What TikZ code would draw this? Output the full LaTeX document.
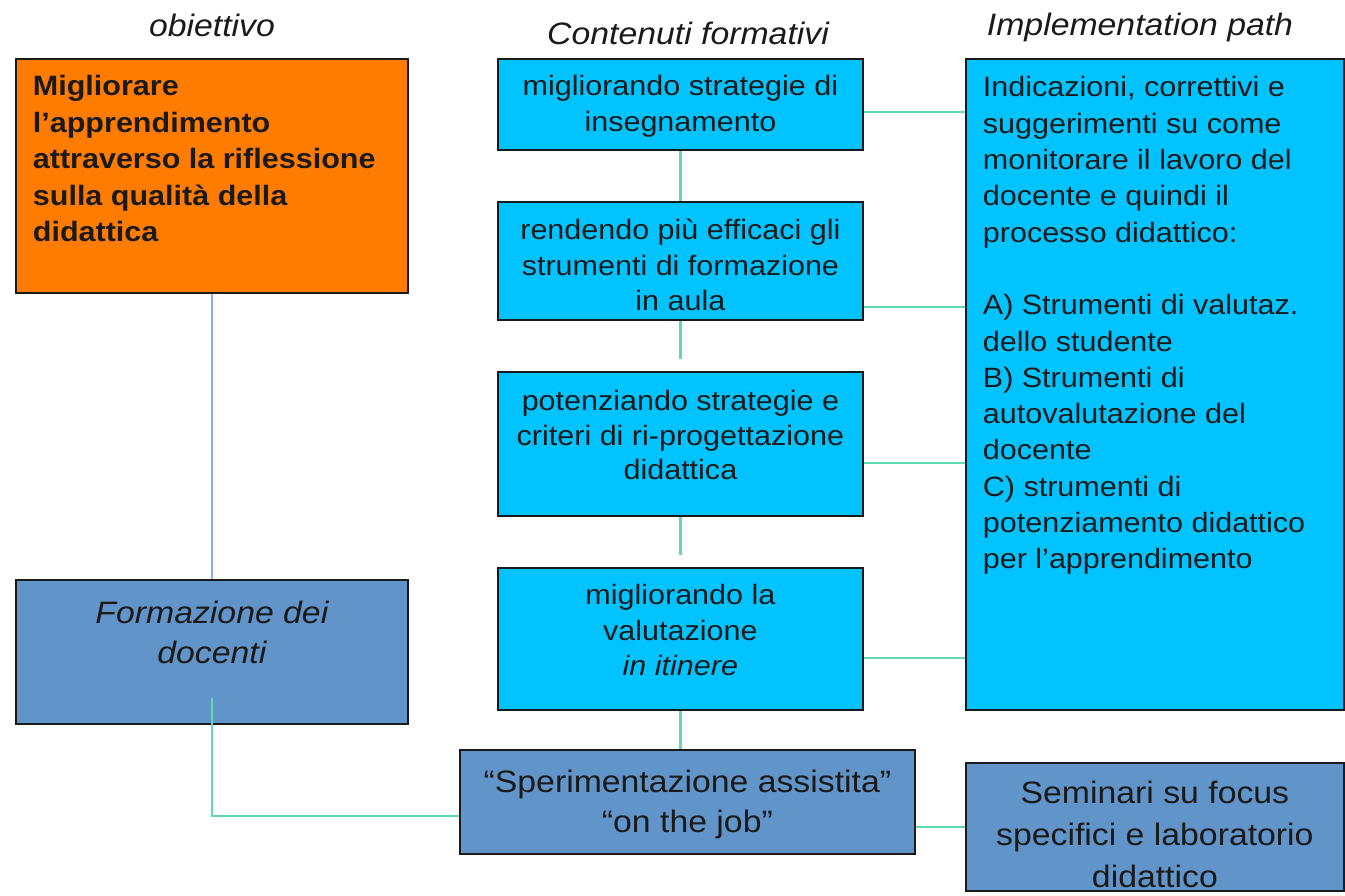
\documentclass[tikz,border=0pt]{standalone}
\usepackage{fontspec}
\setmainfont{Liberation Sans}[FakeStretch=1.09]
\definecolor{orangebox}{HTML}{FF7C00}
\definecolor{cyanbox}{HTML}{00C3FF}
\definecolor{darkbox}{HTML}{6195C9}
\definecolor{conncol}{HTML}{5FD9B0}
\definecolor{ofcol}{HTML}{8DB0DE}
\definecolor{txt}{HTML}{1A1A1A}
\newcommand{\bxt}[5]{\parbox[c][#2][t]{#1}{#4\rule{0pt}{#3}#5}}
\tikzset{
  box/.style={draw=txt, line width=1.8pt, inner sep=0pt, anchor=north west, text=txt},
  conn/.style={draw=conncol, line width=2.5pt},
  title/.style={anchor=base, text=txt, font=\fontsize{31}{36}\selectfont\itshape, inner sep=0pt}
}
\begin{document}
\begin{tikzpicture}[x=1pt,y=-1pt]
\useasboundingbox (0,0) rectangle (1345,895);
% titles
\node[title] (t1) at (212,36) {obiettivo};
\node[title] (t2) at (688,44) {Contenuti formativi};
\node[title] (t3) at (1140,35) {Implementation path};
% left column
\node[box, fill=orangebox] (O) at (15,58) {\bxt{392pt}{234pt}{37pt}{\fontsize{28}{36.5}\selectfont\bfseries\raggedright\leftskip=17pt}{Migliorare\\ l’apprendimento\\ attraverso la riflessione\\ sulla qualità della\\ didattica}};
\node[box, fill=darkbox] (F) at (15,579) {\bxt{392pt}{144pt}{44pt}{\fontsize{31}{40}\selectfont\itshape\centering}{Formazione dei\\ docenti}};
% middle column
\node[box, fill=cyanbox] (C1) at (497,58) {\bxt{365pt}{91pt}{37pt}{\fontsize{28}{36}\selectfont\centering}{migliorando strategie di\\ insegnamento}};
\node[box, fill=cyanbox] (C2) at (497,201) {\bxt{365pt}{118pt}{38pt}{\fontsize{28}{35.5}\selectfont\centering}{rendendo più efficaci gli\\ strumenti di formazione\\ in aula}};
\node[box, fill=cyanbox] (C3) at (497,371) {\bxt{365pt}{144pt}{39pt}{\fontsize{28}{34.5}\selectfont\centering}{potenziando strategie e\\ criteri di ri-progettazione\\ didattica}};
\node[box, fill=cyanbox] (C4) at (497,567) {\bxt{365pt}{142pt}{37pt}{\fontsize{28}{35.5}\selectfont\centering}{migliorando la\\ valutazione\\ \textit{in itinere}}};
\node[box, fill=darkbox] (S) at (459,749) {\bxt{455pt}{104pt}{43pt}{\fontsize{31}{40}\selectfont\centering}{“Sperimentazione assistita”\\ “on the job”}};
% right column
\node[box, fill=cyanbox] (R) at (965,58) {\bxt{378pt}{651pt}{38pt}{\fontsize{28}{36.3}\selectfont\raggedright\leftskip=17pt}{Indicazioni, correttivi e\\ suggerimenti su come\\ monitorare il lavoro del\\ docente e quindi il\\ processo didattico:\\ \mbox{}\\ A) Strumenti di valutaz.\\ dello studente\\ B) Strumenti di\\ autovalutazione del\\ docente\\ C) strumenti di\\ potenziamento didattico\\ per l’apprendimento}};
\node[box, fill=darkbox] (M) at (965,762) {\bxt{378pt}{128pt}{41pt}{\fontsize{31}{42}\selectfont\centering}{Seminari su focus\\ specifici e laboratorio\\ didattico}};
% connectors
\draw[draw=ofcol, line width=2pt] (O.south) -- (F.north);
\draw[conn] (C1.south) -- (C2.north);
\coordinate (c23) at ([yshift=-38pt]C2.south);
\draw[conn] (C2.south) -- (c23);
\coordinate (c34) at ([yshift=-38pt]C3.south);
\draw[conn] (C3.south) -- (c34);
\draw[conn] (C4.south) -- (S.north -| C4.south);
\coordinate (r1) at ([yshift=-7.5pt]C1.east);
\draw[conn] (r1) -- (r1 -| R.west);
\coordinate (r2) at ([yshift=-46pt]C2.east);
\draw[conn] (r2) -- (r2 -| R.west);
\coordinate (r3) at ([yshift=-19pt]C3.east);
\draw[conn] (r3) -- (r3 -| R.west);
\coordinate (r4) at ([yshift=-19pt]C4.east);
\draw[conn] (r4) -- (r4 -| R.west);
\coordinate (fs0) at ([yshift=-46pt]F.center);
\coordinate (sw) at ([yshift=-14pt]S.west);
\draw[conn] (fs0) -- (fs0 |- sw) -- (sw);
\draw[conn] (M.west -| S.east) -- (M.west);
\end{tikzpicture}
\end{document}
